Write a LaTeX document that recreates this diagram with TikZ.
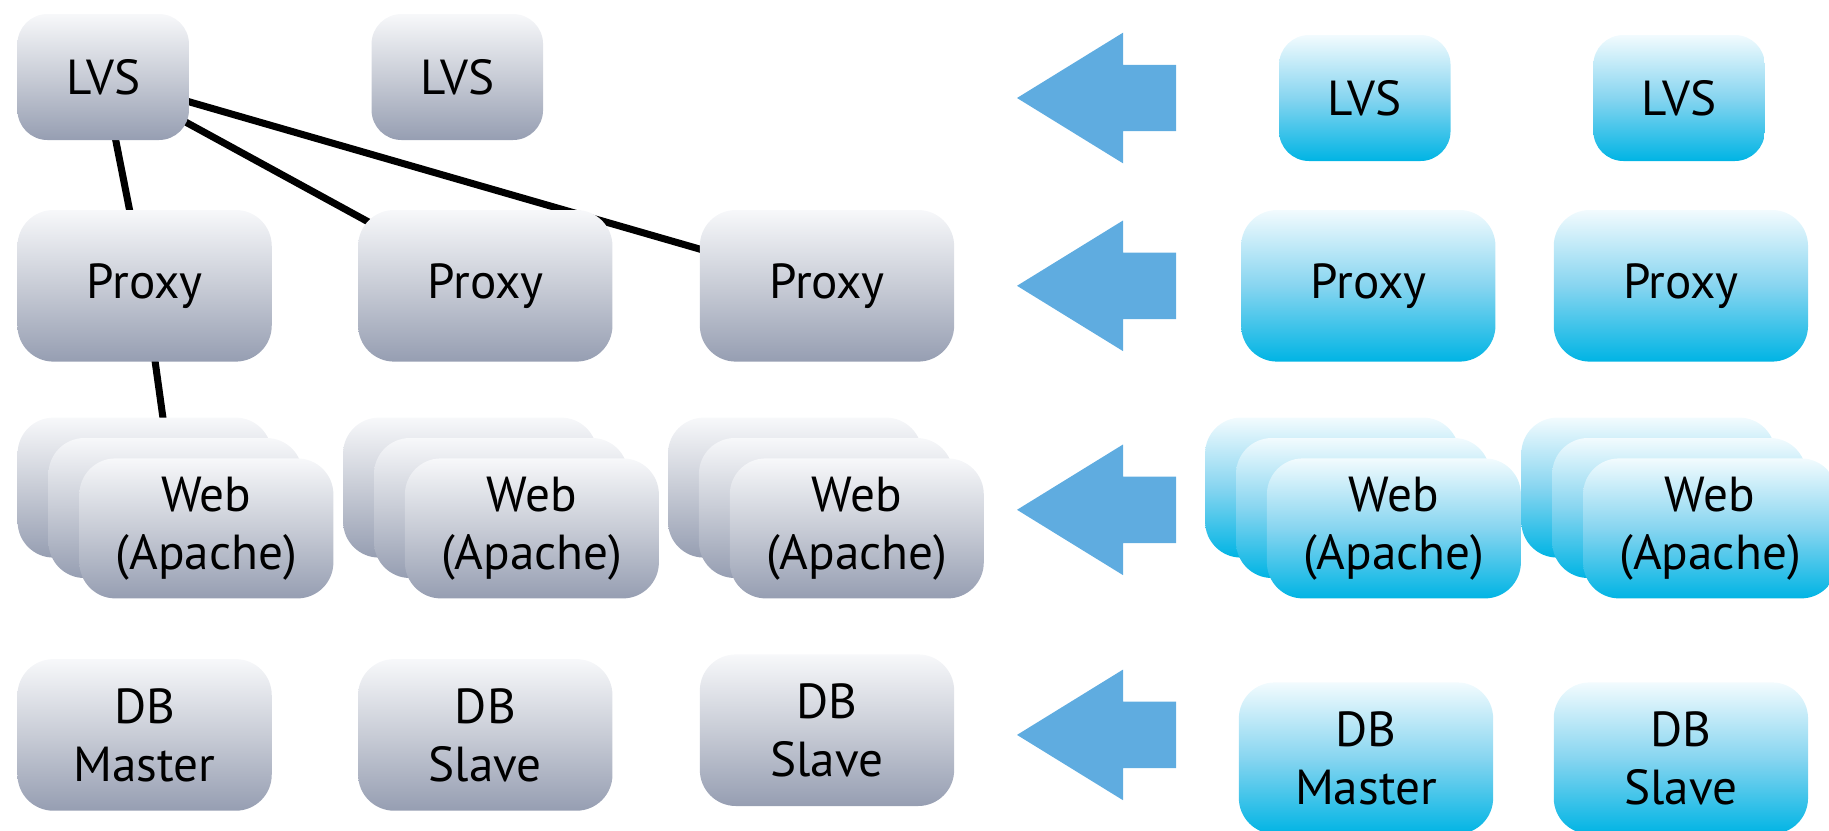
\documentclass[tikz,border=0pt]{standalone}
\usepackage{fontspec}
\setmainfont{PT Sans}
\usetikzlibrary{backgrounds}

\definecolor{grtop}{RGB}{247,248,250}
\definecolor{grmid}{RGB}{200,204,214}
\definecolor{grbot}{RGB}{150,158,178}
\definecolor{bltop}{RGB}{242,251,254}
\definecolor{blmid}{RGB}{135,213,240}
\definecolor{blbot}{RGB}{0,180,228}
\definecolor{arrowblue}{RGB}{95,172,224}

\tikzset{
  srvbox/.style={rounded corners=0.36cm, minimum width=2.543cm, minimum height=1.516cm,
    inner sep=0pt, align=center, font=\fontsize{14}{16.5}\selectfont},
  lvsbox/.style={srvbox, minimum width=1.715cm, minimum height=1.26cm, rounded corners=0.3cm},
  webbox/.style={srvbox, minimum width=2.54cm, minimum height=1.40cm},
  grayfill/.style={top color=grtop, bottom color=grbot, middle color=grmid},
  bluefill/.style={top color=bltop, bottom color=blbot, middle color=blmid},
  link/.style={line width=2pt, black}
}

\begin{document}
\begin{tikzpicture}
    \useasboundingbox (0,0) rectangle (18.29,-8.31);
    % current setup
    \node [lvsbox, grayfill] (lvsA) at (1.032,-0.770) {LVS};
    \node [lvsbox, grayfill] (lvsB) at (4.573,-0.770) {LVS};
    \node [srvbox, grayfill] (proxyA) at (1.446,-2.858) {Proxy};
    \node [srvbox, grayfill] (proxyB) at (4.853,-2.858) {Proxy};
    \node [srvbox, grayfill] (proxyC) at (8.270,-2.858) {Proxy};
    \foreach \n/\x in {A/1.446,B/4.701,C/7.950} {
        \node [webbox, grayfill] (web\n1) at (\x,-4.876) {};
        \node [webbox, grayfill] (web\n2) at (\x+0.309,-5.080) {};
        \node [webbox, grayfill] (web\n3) at (\x+0.618,-5.284) {Web\\(Apache)};
    }
    \node [srvbox, grayfill] (dbA) at (1.446,-7.349) {DB\\Master};
    \node [srvbox, grayfill] (dbB) at (4.853,-7.349) {DB\\Slave};
    \node [srvbox, grayfill] (dbC) at (8.270,-7.302) {DB\\Slave};
    \begin{pgfonlayer}{background}
        \draw [link] (lvsA.center) -- (proxyA.center);
        \draw [link] (lvsA.center) -- (proxyB.center);
        \draw [link] (lvsA.center) -- (proxyC.center);
        \draw [link] (proxyA.center) -- (webA2.center);
    \end{pgfonlayer}
    % arrows
    \foreach \y in {-0.980,-2.858,-5.098,-7.349}
        \fill [arrowblue] (10.17,\y) -- (11.23,\y+0.653) -- (11.23,\y+0.332) -- (11.76,\y+0.332)
            -- (11.76,\y-0.332) -- (11.23,\y-0.332) -- (11.23,\y-0.653) -- cycle;
    % new setup
    \node [lvsbox, bluefill] (lvsC) at (13.648,-0.980) {LVS};
    \node [lvsbox, bluefill] (lvsD) at (16.791,-0.980) {LVS};
    \node [srvbox, bluefill] (proxyD) at (13.683,-2.858) {Proxy};
    \node [srvbox, bluefill] (proxyE) at (16.809,-2.858) {Proxy};
    \foreach \n/\x in {D/13.321,E/16.483} {
        \node [webbox, bluefill] (web\n1) at (\x,-4.876) {};
        \node [webbox, bluefill] (web\n2) at (\x+0.309,-5.080) {};
        \node [webbox, bluefill] (web\n3) at (\x+0.618,-5.284) {Web\\(Apache)};
    }
    \node [srvbox, bluefill] (dbD) at (13.660,-7.582) {DB\\Master};
    \node [srvbox, bluefill] (dbE) at (16.809,-7.582) {DB\\Slave};
\end{tikzpicture}
\end{document}
